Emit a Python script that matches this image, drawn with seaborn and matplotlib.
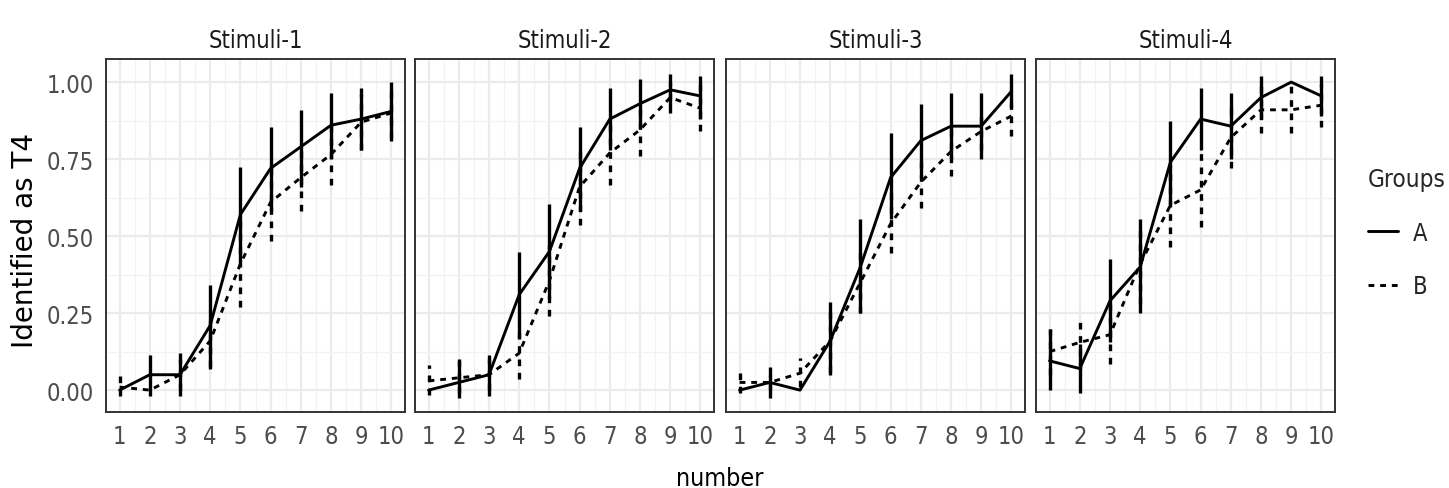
import numpy as np
import pandas as pd
import matplotlib
matplotlib.use("Agg")
import matplotlib.pyplot as plt
from matplotlib.lines import Line2D
import seaborn as sns

# ----------------------------
# Data
# ----------------------------
number = list(range(1, 11))
stimuli = ["Stimuli-1", "Stimuli-2", "Stimuli-3", "Stimuli-4"]

# group A means / error bar ends
a_mean = {
    "Stimuli-1": [0.00, 0.05, 0.05, 0.21, 0.57, 0.72, 0.79, 0.86, 0.88, 0.905],
    "Stimuli-2": [0.00, 0.025, 0.05, 0.31, 0.45, 0.72, 0.88, 0.93, 0.975, 0.955],
    "Stimuli-3": [0.00, 0.025, 0.00, 0.16, 0.40, 0.69, 0.81, 0.857, 0.857, 0.97],
    "Stimuli-4": [0.095, 0.07, 0.29, 0.40, 0.74, 0.88, 0.857, 0.95, 1.00, 0.955],
}
a_lo = {
    "Stimuli-1": [0.00, -0.02, -0.02, 0.07, 0.42, 0.58, 0.66, 0.75, 0.78, 0.81],
    "Stimuli-2": [0.00, -0.025, -0.02, 0.17, 0.30, 0.58, 0.78, 0.85, 0.92, 0.88],
    "Stimuli-3": [0.00, -0.025, 0.00, 0.05, 0.25, 0.555, 0.69, 0.75, 0.75, 0.92],
    "Stimuli-4": [0.00, -0.01, 0.155, 0.25, 0.60, 0.78, 0.75, 0.88, 1.00, 0.89],
}
a_hi = {
    "Stimuli-1": [0.00, 0.115, 0.12, 0.34, 0.725, 0.855, 0.91, 0.965, 0.98, 1.00],
    "Stimuli-2": [0.00, 0.10, 0.115, 0.45, 0.605, 0.855, 0.98, 1.01, 1.025, 1.02],
    "Stimuli-3": [0.00, 0.075, 0.00, 0.285, 0.555, 0.835, 0.93, 0.965, 0.965, 1.025],
    "Stimuli-4": [0.20, 0.15, 0.425, 0.555, 0.875, 0.98, 0.965, 1.02, 1.00, 1.02],
}

# group B means / error bar ends
b_mean = {
    "Stimuli-1": [0.01, 0.00, 0.05, 0.16, 0.41, 0.61, 0.69, 0.765, 0.87, 0.90],
    "Stimuli-2": [0.03, 0.04, 0.05, 0.12, 0.355, 0.66, 0.77, 0.845, 0.95, 0.915],
    "Stimuli-3": [0.025, 0.025, 0.055, 0.16, 0.35, 0.54, 0.675, 0.775, 0.84, 0.89],
    "Stimuli-4": [0.125, 0.155, 0.18, 0.41, 0.60, 0.65, 0.82, 0.91, 0.91, 0.925],
}
b_lo = {
    "Stimuli-1": [-0.02, 0.00, 0.00, 0.075, 0.27, 0.485, 0.58, 0.665, 0.78, 0.82],
    "Stimuli-2": [-0.015, -0.01, 0.00, 0.035, 0.24, 0.535, 0.665, 0.76, 0.90, 0.84],
    "Stimuli-3": [-0.01, 0.00, 0.01, 0.06, 0.25, 0.445, 0.59, 0.695, 0.78, 0.825],
    "Stimuli-4": [0.05, 0.07, 0.085, 0.28, 0.465, 0.53, 0.72, 0.835, 0.835, 0.855],
}
b_hi = {
    "Stimuli-1": [0.045, 0.00, 0.10, 0.245, 0.55, 0.74, 0.80, 0.865, 0.96, 0.98],
    "Stimuli-2": [0.08, 0.095, 0.10, 0.21, 0.47, 0.79, 0.875, 0.93, 1.00, 0.99],
    "Stimuli-3": [0.055, 0.05, 0.105, 0.26, 0.45, 0.64, 0.76, 0.855, 0.90, 0.955],
    "Stimuli-4": [0.20, 0.24, 0.28, 0.54, 0.73, 0.77, 0.92, 0.99, 0.99, 0.995],
}

rows = []
for s in stimuli:
    for g, m, lo, hi in [("A", a_mean, a_lo, a_hi), ("B", b_mean, b_lo, b_hi)]:
        for i, n in enumerate(number):
            rows.append({"stim": s, "group": g, "number": n,
                         "value": m[s][i], "lo": lo[s][i], "hi": hi[s][i]})
df = pd.DataFrame(rows)

# ----------------------------
# Plot
# ----------------------------
sns.set_style("white")
plt.rcParams["font.family"] = ["DejaVu Sans"]
plt.rcParams["font.stretch"] = "condensed"

fig = plt.figure(figsize=(14.49, 4.89), dpi=100)
W, H = 1449, 489
lefts = [106, 415, 726, 1036]
pw = 299
ptop, pbot = 60, 413

dash = (2.0, 2.0)
for k, s in enumerate(stimuli):
    ax = fig.add_axes([lefts[k] / W, (H - pbot) / H, pw / W, (pbot - ptop) / H])
    sub = df[df["stim"] == s]

    # grid like theme_bw
    ax.set_xticks(number)
    ax.set_xticks(np.arange(1.5, 10.5, 1), minor=True)
    ax.set_yticks([0, 0.25, 0.5, 0.75, 1.0])
    ax.set_yticks([0.125, 0.375, 0.625, 0.875], minor=True)
    ax.grid(which="major", color="#EBEBEB", linewidth=1.6)
    ax.grid(which="minor", color="#F2F2F2", linewidth=0.9)
    ax.set_axisbelow(True)

    for g, ls in [("A", "-"), ("B", (0, dash))]:
        d = sub[sub["group"] == g]
        ax.vlines(d["number"], d["lo"], d["hi"], colors="black",
                  linewidth=2.4, linestyles=[ls], zorder=3)

    sns.lineplot(data=sub, x="number", y="value", style="group",
                 dashes={"A": "", "B": dash}, color="black", linewidth=2.1,
                 legend=False, ax=ax, zorder=4)

    ax.set_xlim(0.55, 10.45)
    ax.set_ylim(-0.071, 1.075)
    ax.set_xlabel("")
    ax.set_ylabel("")
    ax.set_xticklabels([str(n) for n in number])
    ax.tick_params(axis="both", which="major", length=6, width=1.4,
                   color="#333333", labelcolor="#4D4D4D", labelsize=17,
                   pad=3)
    ax.tick_params(which="minor", length=0)
    if k == 0:
        ax.set_yticklabels(["0.00", "0.25", "0.50", "0.75", "1.00"])
    else:
        ax.tick_params(axis="y", which="major", left=False, labelleft=False)
    for sp in ax.spines.values():
        sp.set_color("#333333")
        sp.set_linewidth(1.4)
    ax.set_title(s, fontsize=17, color="#1A1A1A", pad=9)

fig.text(25 / W, 1 - 240 / H, "Identified as T4", rotation=90,
         ha="center", va="center", fontsize=20, color="black",
         family=["DejaVu Sans"], stretch="normal")
fig.text(720 / W, 1 - 479 / H, "number", ha="center", va="center",
         fontsize=18, color="black")

handles = [Line2D([], [], color="black", linewidth=2.1, linestyle="-"),
           Line2D([], [], color="black", linewidth=2.1, linestyle=(0, dash))]
leg = fig.legend(handles, ["A", "B"], title="Groups", loc="upper left",
                 bbox_to_anchor=(1368 / W, 1 - 168 / H), frameon=False,
                 borderpad=0, borderaxespad=0,
                 fontsize=17, title_fontsize=17.5, handlelength=1.25,
                 labelspacing=1.25, handletextpad=0.65, alignment="left")

fig.savefig("out.png", dpi=100)
